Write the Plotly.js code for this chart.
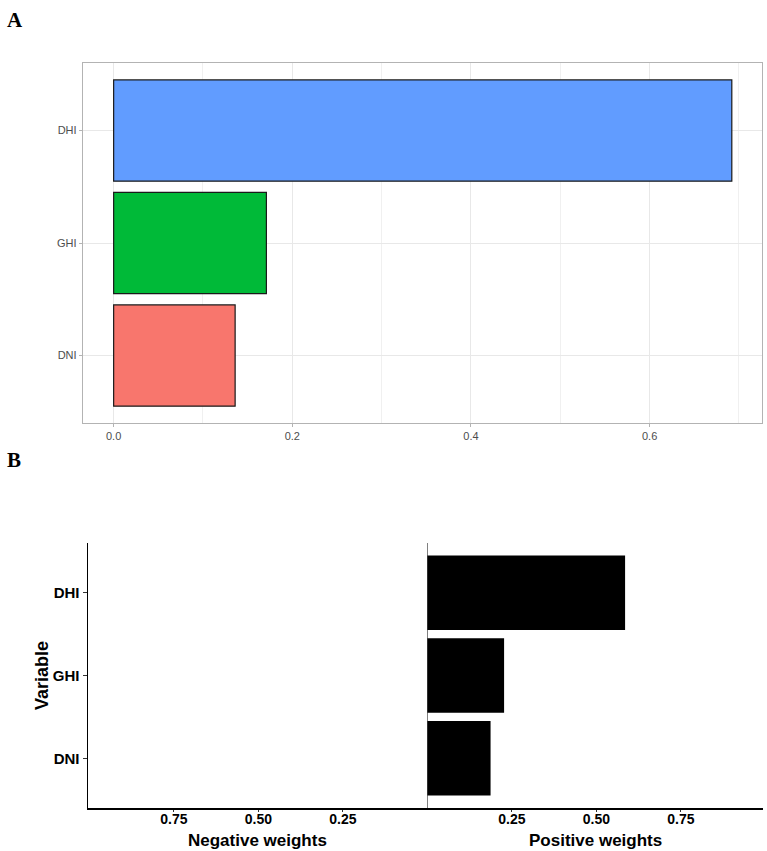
<!DOCTYPE html>
<html>
<head>
<meta charset="utf-8">
<script src="https://cdn.plot.ly/plotly-3.0.1.min.js"></script>
<style>html,body{margin:0;padding:0;background:#fff;}#chart{width:767px;height:851px;}</style>
</head>
<body>
<div id="chart"></div>
<script>
// Data
const categories = ["DNI", "GHI", "DHI"];
const importanceValues = [0.136, 0.171, 0.692];
const importanceColors = ["#F8766D", "#00BA38", "#619CFF"];
const weightValues = [0.187, 0.227, 0.585];
const topTickVals = [0, 0.2, 0.4, 0.6];
const topTickText = ["0.0", "0.2", "0.4", "0.6"];
const bottomTickVals = [-0.75, -0.5, -0.25, 0.25, 0.5, 0.75];
const bottomTickText = ["0.75", "0.50", "0.25", "0.25", "0.50", "0.75"];

const W = 767, H = 851;
const px = v => v / W, py = v => 1 - v / H;

const traces = [
  {
    type: "bar", orientation: "h", x: importanceValues, y: categories,
    xaxis: "x", yaxis: "y", width: 0.9,
    marker: {color: importanceColors, line: {color: "#1a1a1a", width: 1.2}},
    hoverinfo: "x+y", showlegend: false
  },
  {
    type: "bar", orientation: "h", x: weightValues, y: categories,
    xaxis: "x2", yaxis: "y2", width: 0.9,
    marker: {color: "#000000", line: {width: 0}},
    hoverinfo: "x+y", showlegend: false
  }
];

const layout = {
  width: W, height: H,
  margin: {l: 0, r: 0, t: 0, b: 0},
  paper_bgcolor: "#ffffff", plot_bgcolor: "#ffffff",
  font: {family: "Arial, 'Liberation Sans', sans-serif"},
  bargap: 0.1,
  xaxis: {
    domain: [px(83), px(762)],
    anchor: "y",
    range: [-0.0343, 0.7258],
    tickvals: topTickVals, ticktext: topTickText,
    tickfont: {size: 11, color: "#4d4d4d"},
    showgrid: true, gridcolor: "#e8e8e8", gridwidth: 1,
    minor: {dtick: 0.1, showgrid: true, gridcolor: "#f0f0f0", gridwidth: 1, ticks: ""},
    zeroline: false,
    showline: true, mirror: true, linecolor: "#b3b3b3", linewidth: 1.2,
    ticks: "outside", ticklen: 3, tickcolor: "#b3b3b3",
    fixedrange: true
  },
  yaxis: {
    domain: [py(423), py(63)],
    anchor: "x",
    type: "category",
    categoryorder: "array", categoryarray: categories,
    range: [-0.6, 2.6],
    tickfont: {size: 11, color: "#4d4d4d"},
    showgrid: true, gridcolor: "#e8e8e8", gridwidth: 1,
    zeroline: false,
    showline: true, mirror: true, linecolor: "#b3b3b3", linewidth: 1.2,
    ticks: "outside", ticklen: 3, tickcolor: "#b3b3b3",
    fixedrange: true
  },
  xaxis2: {
    domain: [px(88), px(763)],
    anchor: "y2",
    range: [-1.004, 0.993],
    tickvals: bottomTickVals, ticktext: bottomTickText,
    tickfont: {size: 14, color: "#000000", weight: "bold"},
    ticklabelstandoff: -4,
    showgrid: false,
    zeroline: true, zerolinecolor: "#808080", zerolinewidth: 1.5,
    showline: true, linecolor: "#000000", linewidth: 1.5,
    ticks: "outside", ticklen: 2, tickcolor: "#333333",
    fixedrange: true
  },
  yaxis2: {
    domain: [py(808), py(543)],
    anchor: "x2",
    type: "category",
    categoryorder: "array", categoryarray: categories,
    range: [-0.6, 2.6],
    tickfont: {size: 15, color: "#000000", weight: "bold"},
    showgrid: false, zeroline: false,
    showline: true, linecolor: "#000000", linewidth: 1.5,
    ticks: "outside", ticklen: 4, tickcolor: "#333333",
    fixedrange: true
  },
  annotations: [
    {text: "A", x: px(5), y: py(20), xref: "paper", yref: "paper", xanchor: "left", yanchor: "middle",
     showarrow: false, font: {family: "'Liberation Serif', 'Times New Roman', serif", size: 21, color: "#000", weight: "bold"}},
    {text: "B", x: px(5), y: py(460), xref: "paper", yref: "paper", xanchor: "left", yanchor: "middle",
     showarrow: false, font: {family: "'Liberation Serif', 'Times New Roman', serif", size: 21, color: "#000", weight: "bold"}},
    {text: "Variable", x: px(42), y: py(676), xref: "paper", yref: "paper", xanchor: "center", yanchor: "middle",
     textangle: -90, showarrow: false, font: {size: 18, color: "#000", weight: "bold"}},
    {text: "Negative weights", x: px(257), y: py(840), xref: "paper", yref: "paper", xanchor: "center", yanchor: "middle",
     showarrow: false, font: {size: 17, color: "#000", weight: "bold"}},
    {text: "Positive weights", x: px(595), y: py(840), xref: "paper", yref: "paper", xanchor: "center", yanchor: "middle",
     showarrow: false, font: {size: 17, color: "#000", weight: "bold"}}
  ]
};

Plotly.newPlot("chart", traces, layout, {displayModeBar: false, staticPlot: true});
</script>
</body>
</html>
